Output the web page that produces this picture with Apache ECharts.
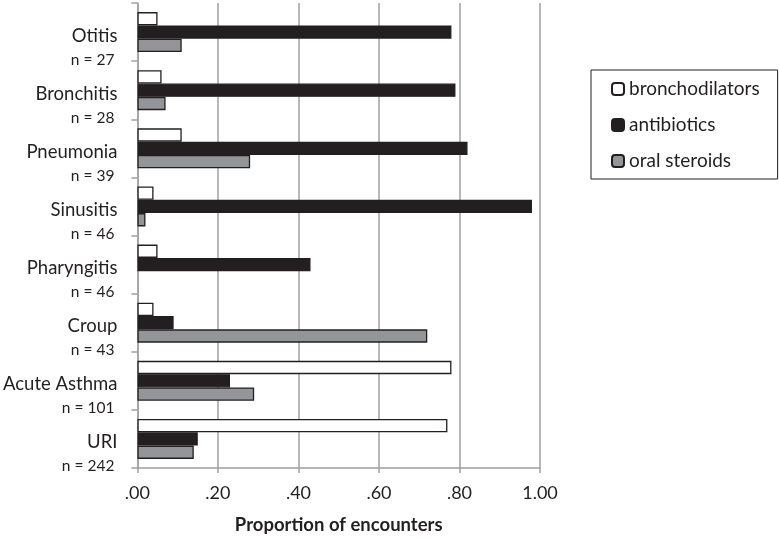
<!DOCTYPE html>
<html>
<head>
<meta charset="utf-8">
<script src="https://cdn.jsdelivr.net/npm/echarts@6/dist/echarts.min.js"></script>
<style>html,body{margin:0;padding:0;background:#fff}#c{width:779px;height:540px}</style>
</head>
<body>
<div id="c"></div>
<script>
var categories = ['Otitis', 'Bronchitis', 'Pneumonia', 'Sinusitis', 'Pharyngitis', 'Croup', 'Acute Asthma', 'URI'];
var sampleSizes = [27, 28, 39, 46, 46, 43, 101, 242];
var bronchodilators = [0.05, 0.06, 0.11, 0.04, 0.05, 0.04, 0.78, 0.77];
var antibiotics = [0.78, 0.79, 0.82, 0.98, 0.43, 0.09, 0.23, 0.15];
var oralSteroids = [0.11, 0.07, 0.28, 0.02, 0, 0.72, 0.29, 0.14];
var seriesNames = ['bronchodilators', 'antibiotics', 'oral steroids'];
var xTicks = [0, 0.2, 0.4, 0.6, 0.8, 1.0];

var FONT = 'Lato';
var chart = echarts.init(document.getElementById('c'));
var labelMap = {};
categories.forEach(function (c, i) { labelMap[c] = sampleSizes[i]; });

function barSeries(name, data, fill, border) {
  return {
    name: name, type: 'bar',
    data: data.map(function (v) {
      return v === 0 ? { value: v, itemStyle: { borderWidth: 0 } } : v;
    }),
    barWidth: 13.3, barGap: '0%', barCategoryGap: '33.3%',
    itemStyle: { color: fill, borderColor: border, borderWidth: 1.3 }
  };
}

chart.setOption({
  animation: false,
  textStyle: { fontFamily: FONT },
  grid: { left: 136, right: 239, top: 3, bottom: 57, containLabel: false },
  legend: {
    data: seriesNames,
    orient: 'vertical',
    left: 591, top: 70,
    padding: [9, 18, 8, 20],
    itemGap: 16,
    itemWidth: 12, itemHeight: 12,
    borderColor: '#231f20', borderWidth: 1,
    textStyle: { fontFamily: FONT, fontSize: 19, color: '#231f20', lineHeight: 20 }
  },
  xAxis: {
    type: 'value', min: xTicks[0], max: xTicks[xTicks.length - 1], interval: 0.2,
    name: 'Proportion of encounters', nameLocation: 'middle', nameGap: 48,
    nameTextStyle: { fontFamily: FONT, fontSize: 18.5, fontWeight: 'bold', color: '#231f20' },
    axisLine: { show: true, lineStyle: { color: '#a0a0a0', width: 1.5 } },
    axisTick: { show: true, length: 5, lineStyle: { color: '#a0a0a0', width: 1.5 } },
    axisLabel: {
      fontFamily: FONT, fontSize: 18, color: '#231f20', margin: 16,
      formatter: function (v) { return v.toFixed(2).replace(/^0/, ''); }
    },
    splitLine: { show: true, lineStyle: { color: '#a0a0a0', width: 1.5 } }
  },
  yAxis: {
    type: 'category', data: categories, inverse: true,
    axisLine: { show: true, lineStyle: { color: '#a0a0a0', width: 1.5 } },
    axisTick: { show: true, length: 6, lineStyle: { color: '#a0a0a0', width: 1.5 } },
    axisLabel: {
      margin: 20,
      padding: [29, 0, 0, 0],
      formatter: function (v) { return '{a|' + v + '}\n{b|n = ' + labelMap[v] + '}'; },
      rich: {
        a: { fontFamily: FONT, fontSize: 18.5, color: '#231f20', lineHeight: 26, align: 'right' },
        b: { fontFamily: FONT, fontSize: 15.5, color: '#231f20', lineHeight: 22, align: 'right', padding: [0, 3, 0, 0] }
      }
    }
  },
  series: [
    barSeries(seriesNames[0], bronchodilators, '#ffffff', '#231f20'),
    barSeries(seriesNames[1], antibiotics, '#231f20', '#231f20'),
    barSeries(seriesNames[2], oralSteroids, '#939598', '#231f20')
  ]
});
</script>
</body>
</html>
